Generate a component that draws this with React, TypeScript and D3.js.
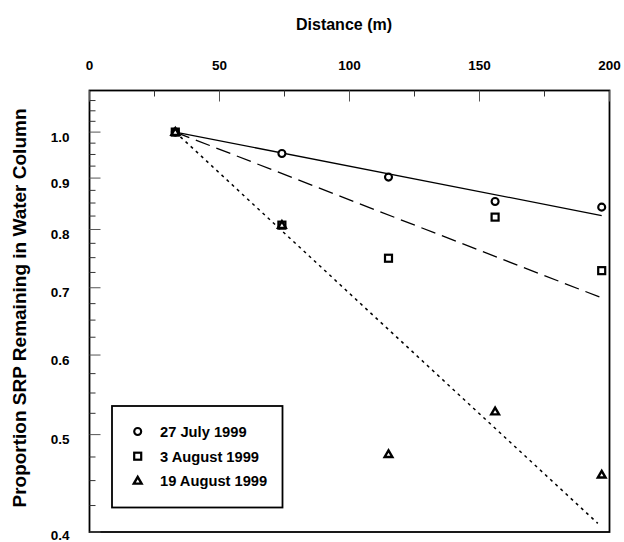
import React from "react";
import * as d3 from "d3";

// distances along the reach (m)
const distances = [33, 74, 115, 156, 197];

// proportion SRP remaining, per sampling date
const july27 = [1.0, 0.952, 0.902, 0.853, 0.842];
const aug3 = [1.0, 0.808, 0.749, 0.823, 0.728];
const aug19 = [1.0, 0.808, 0.478, 0.527, 0.456];

// fitted decay lines, [distance, proportion] endpoints
const fitJuly27 = [[33, 1.0], [197, 0.826]];
const fitAug3 = [[33, 1.0], [197, 0.684]];
const fitAug19 = [[33, 1.0], [195.5, 0.408]];

const xTicksMajor = [0, 50, 100, 150, 200];
const yTicksMajor = [0.4, 0.5, 0.6, 0.7, 0.8, 0.9, 1.0];

const legendLabels = ["27 July 1999", "3 August 1999", "19 August 1999"];

const W = 624;
const H = 542;
const left = 89.5;
const right = 609.5;
const top = 90.5;
const bottom = 532;
const font = "'Liberation Sans', Arial, Helvetica, sans-serif";

export default function App() {
  const x = d3.scaleLinear().domain([0, 200]).range([left, right]);
  const y = d3.scaleLog().domain([0.4, 1.1]).range([bottom, top]);

  const xMinor = d3.range(25, 200, 50);
  const yMinor = d3.range(0.425, 1.1, 0.025).filter(
    (v) => Math.abs(Math.round(v * 10) - v * 10) > 0.01
  );

  const line = d3
    .line<number[]>()
    .x((d) => x(d[0]))
    .y((d) => y(d[1]));

  const series = [
    { name: legendLabels[0], values: july27, shape: "circle" },
    { name: legendLabels[1], values: aug3, shape: "square" },
    { name: legendLabels[2], values: aug19, shape: "triangle" },
  ];

  const marker = (shape: string, cx: number, cy: number, key: string) => {
    if (shape === "circle")
      return <circle key={key} cx={cx} cy={cy} r={3.5} fill="#fff" stroke="#000" strokeWidth={2.1} />;
    if (shape === "square")
      return <rect key={key} x={cx - 3.5} y={cy - 3.5} width={7} height={7} fill="none" stroke="#000" strokeWidth={2.2} />;
    const tri = d3.symbol().type(d3.symbolTriangle).size(26)();
    return (
      <path key={key} d={tri || ""} transform={`translate(${cx},${cy + 0.5})`} fill="#fff" stroke="#000" strokeWidth={2.4} strokeLinejoin="miter" />
    );
  };

  return (
    <svg
      width={W}
      height={H}
      style={{ position: "absolute", left: 0, top: 0, background: "#fff" }}
      fontFamily={font}
      fontWeight="bold"
    >
      {/* fit lines */}
      <path d={line(fitJuly27) || ""} fill="none" stroke="#000" strokeWidth={1.3} />
      <path d={line(fitAug3) || ""} fill="none" stroke="#000" strokeWidth={1.3} strokeDasharray="15,7" />
      <path d={line(fitAug19) || ""} fill="none" stroke="#000" strokeWidth={1.5} strokeDasharray="3,4" />

      {/* points */}
      {series.map((s) =>
        s.values.map((v, i) => marker(s.shape, x(distances[i]), y(v), `${s.shape}-${i}`))
      )}

      {/* frame */}
      <rect x={left} y={top} width={right - left} height={bottom - top} fill="none" stroke="#000" strokeWidth={1.8} />

      {/* top axis ticks */}
      {xTicksMajor.map((t) => (
        <line key={`xt${t}`} x1={x(t)} x2={x(t)} y1={top} y2={top + 11} stroke="#555" strokeWidth={1} />
      ))}
      {xMinor.map((t) => (
        <line key={`xm${t}`} x1={x(t)} x2={x(t)} y1={top} y2={top + 6} stroke="#333" strokeWidth={1} />
      ))}
      {xTicksMajor.map((t) => (
        <text key={`xl${t}`} x={x(t)} y={70} fontSize={13.5} textAnchor="middle">
          {t}
        </text>
      ))}

      {/* left axis ticks */}
      {yTicksMajor.map((t) => (
        <line key={`yt${t}`} x1={left} x2={left + 11} y1={y(t)} y2={y(t)} stroke="#555" strokeWidth={1} />
      ))}
      {yMinor.map((t) => (
        <line key={`ym${t}`} x1={left} x2={left + 6} y1={y(t)} y2={y(t)} stroke="#333" strokeWidth={1} />
      ))}
      {yTicksMajor.map((t) => (
        <text key={`yl${t}`} x={69.5} y={Math.min(y(t) + 9.5, 539.5)} fontSize={13.5} textAnchor="end">
          {d3.format(".1f")(t)}
        </text>
      ))}

      {/* axis titles */}
      <text x={344} y={29.5} fontSize={16} textAnchor="middle">
        Distance (m)
      </text>
      <text transform="translate(26,308) rotate(-90)" fontSize={19} textAnchor="middle">
        Proportion SRP Remaining in Water Column
      </text>

      {/* legend */}
      <rect x={112} y={406} width={170.5} height={101.5} fill="#fff" stroke="#000" strokeWidth={1.8} />
      {series.map((s, i) => {
        const ly = 431.5 + i * 24.7;
        return (
          <g key={`lg${i}`}>
            {marker(s.shape, 137.7, ly, `lm${i}`)}
            <text x={160} y={ly + 5.3} fontSize={14.7}>
              {s.name}
            </text>
          </g>
        );
      })}
    </svg>
  );
}
